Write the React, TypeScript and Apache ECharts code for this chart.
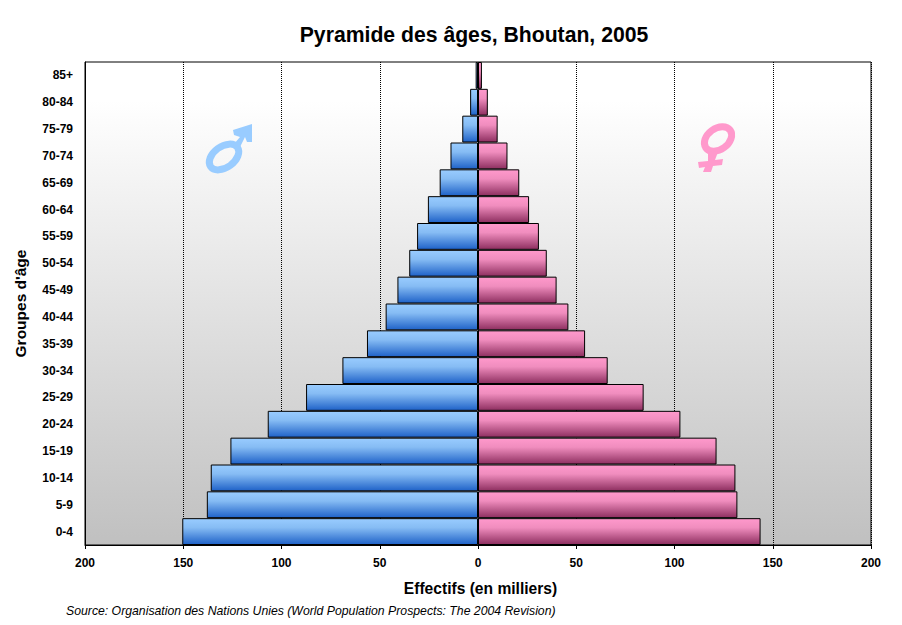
import React, { useEffect, useRef } from "react";
import * as echarts from "echarts";

const categories = ["0-4","5-9","10-14","15-19","20-24","25-29","30-34","35-39","40-44","45-49","50-54","55-59","60-64","65-69","70-74","75-79","80-84","85+"];
const maleValues = [150.5,138,136,126,107,87.5,69,56.5,47,41,35,31,25.5,19.5,14,8,4,1.2];
const femaleValues = [143.8,132,131,121.4,103,84.3,66,54.5,46,40,35,31,26,21,15,10,5,2];

const FONT = '"Liberation Sans", Arial, sans-serif';
const vGrad = (a: string, mid: string, b: string) =>
  new echarts.graphic.LinearGradient(0, 0, 0, 1, [
    { offset: 0, color: a },
    { offset: 0.35, color: mid },
    { offset: 1, color: b },
  ]);

export default function App() {
  const ref = useRef<HTMLDivElement>(null);
  useEffect(() => {
    const chart = echarts.init(ref.current!, undefined, { renderer: "svg" });
    const MALE = "#99CCFF";
    const FEMALE = "#FF99CC";
    chart.setOption({
      animation: false,
      backgroundColor: "#fff",
      title: [
        {
          text: "Pyramide des âges, Bhoutan, 2005",
          left: 469, top: 19, textAlign: "center",
          textStyle: { fontFamily: FONT, fontSize: 21.2, fontWeight: "bold", color: "#000" },
        },
        {
          text: "Source: Organisation des Nations Unies (World Population Prospects: The 2004 Revision)",
          left: 61, top: 600,
          textStyle: { fontFamily: FONT, fontSize: 12.25, fontStyle: "italic", fontWeight: "normal", color: "#000" },
        },
      ],
      grid: {
        left: 85, right: 31, top: 62, bottom: 80, show: true,
        borderColor: "#000", borderWidth: 1,
        backgroundColor: new echarts.graphic.LinearGradient(0, 0, 0, 1, [
          { offset: 0, color: "#FFFFFF" },
          { offset: 0.08, color: "#FFFFFF" },
          { offset: 1, color: "#C0C0C0" },
        ]),
      },
      xAxis: {
        type: "value", min: -200, max: 200, interval: 50,
        name: "Effectifs (en milliers)", nameLocation: "middle", nameGap: 35,
        nameTextStyle: { fontFamily: FONT, fontSize: 15.6, fontWeight: "bold", color: "#000", padding: [0, 0, 0, 5] },
        axisLine: { show: true, onZero: false, lineStyle: { color: "#000", width: 1 } },
        axisTick: { show: true, length: 4, lineStyle: { color: "#000" } },
        axisLabel: {
          margin: 12, fontFamily: FONT, fontSize: 12, fontWeight: "bold", color: "#000",
          formatter: (v: number) => String(Math.abs(v)),
        },
        splitLine: { show: true, lineStyle: { color: "#000", type: [1, 1], width: 1 } },
      },
      yAxis: {
        type: "category", data: categories,
        name: "Groupes d'âge", nameLocation: "middle", nameGap: 57,
        nameTextStyle: { fontFamily: FONT, fontSize: 15.5, fontWeight: "bold", color: "#000" },
        axisLine: { show: true, onZero: false, lineStyle: { color: "#000", width: 1 } },
        axisTick: { show: false },
        axisLabel: { margin: 12, fontFamily: FONT, fontSize: 12, fontWeight: "bold", color: "#000" },
        splitLine: { show: false },
      },
      series: [
        {
          name: "Hommes", type: "bar", stack: "p", barCategoryGap: 0,
          data: maleValues.map((v) => -v),
          itemStyle: { color: vGrad("#99CCFF", "#86BCF4", "#1F62C8"), borderColor: "#000", borderWidth: 1 },
        },
        {
          name: "Femmes", type: "bar", stack: "p", barCategoryGap: 0,
          data: femaleValues,
          itemStyle: { color: vGrad("#FF99CC", "#F08DBE", "#8E2F60"), borderColor: "#000", borderWidth: 1 },
        },
      ],
      graphic: [
        { type: "ellipse", x: 224, y: 157, rotation: Math.PI / 5, z: 5,
          shape: { cx: 0, cy: 0, rx: 16.5, ry: 10.5 }, style: { fill: "none", stroke: MALE, lineWidth: 7 } },
        { type: "polygon", z: 5,
          shape: { points: [[234,144],[240,137],[234,135],[233,130],[252,124],[252,142],[247,142],[245,137],[240,147]] },
          style: { fill: MALE } },
        { type: "ellipse", x: 718, y: 139, rotation: Math.PI / 5, z: 5,
          shape: { cx: 0, cy: 0, rx: 15, ry: 10.5 }, style: { fill: "none", stroke: FEMALE, lineWidth: 7 } },
        { type: "polygon", z: 5,
          shape: { points: [[708,151],[718,152],[715,160],[723,159],[722,165],[713,166],[711,172],[703,172],[705,167],[699,168],[698,162],[708,161]] },
          style: { fill: FEMALE } },
      ],
    });
    return () => chart.dispose();
  }, []);
  return <div ref={ref} style={{ position: "absolute", left: 0, top: 0, width: 902, height: 625 }} />;
}
